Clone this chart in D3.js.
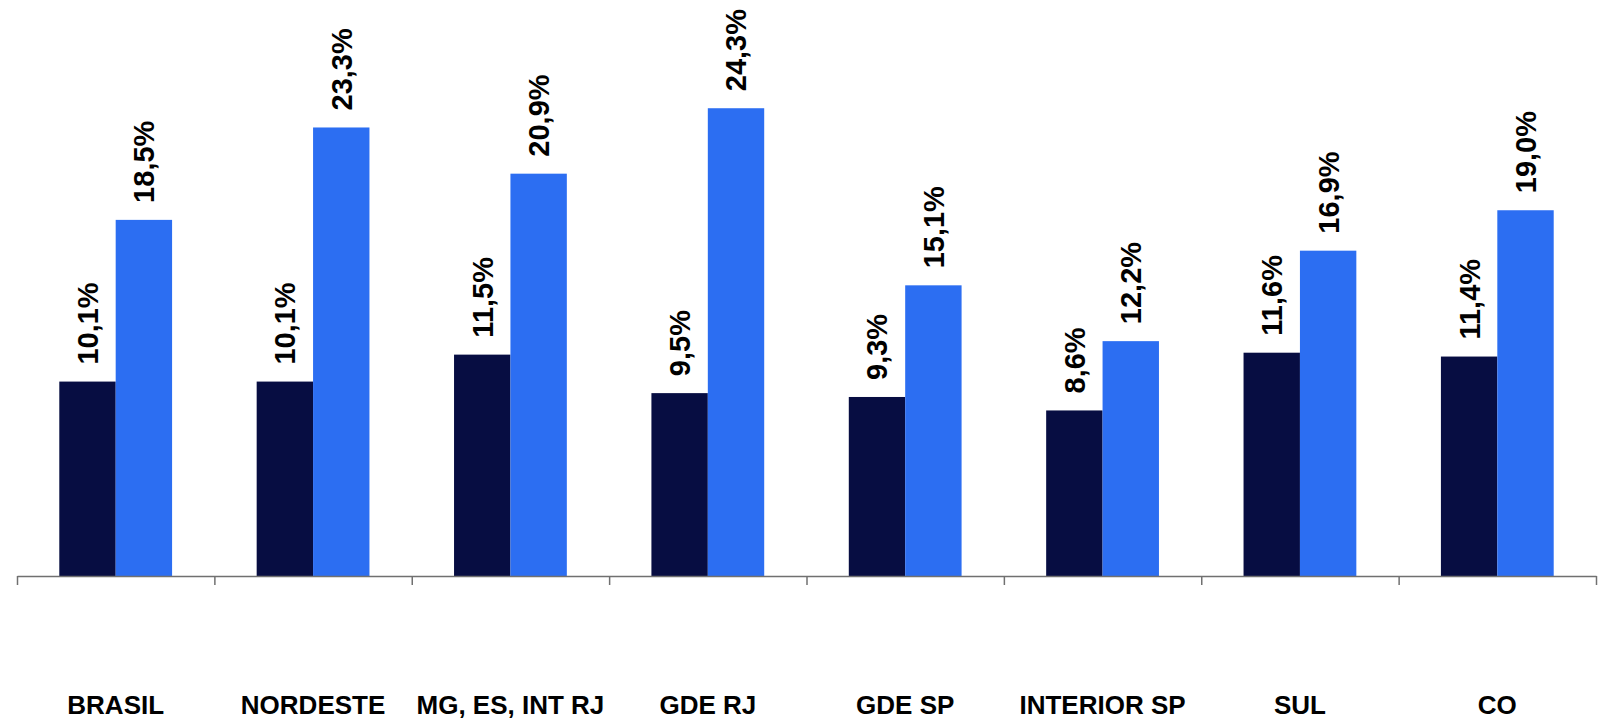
<!DOCTYPE html>
<html>
<head>
<meta charset="utf-8">
<script src="https://cdn.jsdelivr.net/npm/d3@7"></script>
<style>
  html, body { margin: 0; padding: 0; background: #ffffff; }
  svg { display: block; }
  text { font-family: "Liberation Sans", Arial, sans-serif; font-weight: bold; fill: #000; }
</style>
</head>
<body>
<svg id="chart" width="1608" height="721"></svg>
<script>
// Regions and the two series of shares (%)
const categories = ["BRASIL", "NORDESTE", "MG, ES, INT RJ", "GDE RJ", "GDE SP", "INTERIOR SP", "SUL", "CO"];
const seriesA = [10.1, 10.1, 11.5, 9.5, 9.3, 8.6, 11.6, 11.4];
const seriesB = [18.5, 23.3, 20.9, 24.3, 15.1, 12.2, 16.9, 19.0];
const seriesColors = ["#070d42", "#2c6ef2"];

const svg = d3.select("#chart");
const left = 17, right = 1596, baseY = 576;

const x = d3.scaleBand().domain(categories).range([left, right]).paddingInner(0).paddingOuter(0);
const inner = d3.scaleBand().domain([0, 1]).range([0, x.bandwidth()]).paddingInner(0).paddingOuter(0.75);
const y = d3.scaleLinear().domain([0, 30]).range([baseY, baseY - 30 * 19.25]);

const fmt = v => d3.format(".1f")(v).replace(".", ",") + "%";

const rows = categories.map((c, i) => ({ c, vals: [seriesA[i], seriesB[i]] }));

const groups = svg.append("g").selectAll("g").data(rows).join("g")
  .attr("transform", d => `translate(${x(d.c)},0)`);

groups.selectAll("rect").data(d => d.vals.map((v, k) => ({ v, k }))).join("rect")
  .attr("x", d => inner(d.k))
  .attr("width", inner.bandwidth())
  .attr("y", d => y(d.v))
  .attr("height", d => baseY - y(d.v))
  .attr("fill", d => seriesColors[d.k]);

groups.selectAll("text.val").data(d => d.vals.map((v, k) => ({ v, k }))).join("text")
  .attr("class", "val")
  .attr("transform", d => `translate(${inner(d.k) + inner.bandwidth() / 2},${y(d.v) - 17}) rotate(-90)`)
  .attr("dy", "0.36em")
  .attr("text-anchor", "start")
  .style("font-size", "29px")
  .text(d => fmt(d.v));

// Category axis with tick marks at the boundaries between regions
const xEdges = d3.scaleLinear().domain([0, categories.length]).range([left, right]);
const axis = svg.append("g")
  .attr("transform", `translate(0,${baseY})`)
  .call(d3.axisBottom(xEdges).tickValues(d3.range(categories.length + 1)).tickFormat("").tickSize(9).tickSizeOuter(0));
axis.select(".domain").attr("stroke", "#707070").attr("stroke-width", 1.5);
axis.selectAll(".tick line").attr("stroke", "#707070").attr("stroke-width", 1.5);

svg.append("g").selectAll("text").data(categories).join("text")
  .attr("x", d => x(d) + x.bandwidth() / 2)
  .attr("y", 714)
  .attr("text-anchor", "middle")
  .style("font-size", "26px")
  .text(d => d);
</script>
</body>
</html>
